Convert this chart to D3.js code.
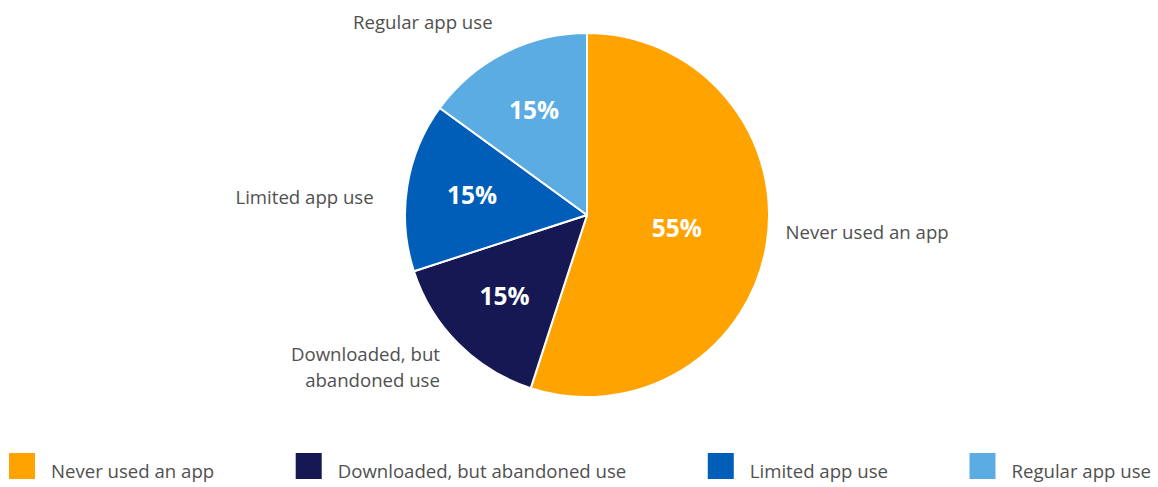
<!DOCTYPE html>
<html>
<head>
<meta charset="utf-8">
<script src="https://cdn.jsdelivr.net/npm/d3@7"></script>
<style>
  html, body { margin: 0; padding: 0; background: #fff; }
  svg { display: block; font-family: "Open Sans", sans-serif; }
</style>
</head>
<body>
<svg id="chart" width="1158" height="487"></svg>
<script>
// App usage shares
const categories = ["Never used an app", "Downloaded, but abandoned use", "Limited app use", "Regular app use"];
const values = [55, 15, 15, 15];
const colors = ["#FFA300", "#151853", "#005EB8", "#5BACE2"];
// Slice labels outside the pie (line breaks where wrapped)
const sliceLabels = [["Never used an app"], ["Downloaded, but", "abandoned use"], ["Limited app use"], ["Regular app use"]];

const W = 1158, H = 487;
const cx = 587, cy = 215, r = 182;
const textColor = "#505050";
const labelSize = 18.6;

const svg = d3.select("#chart");
const data = categories.map((c, i) => ({ name: c, value: values[i], color: colors[i], label: sliceLabels[i] }));

const pie = d3.pie().value(d => d.value).sort(null);
const arcs = pie(data);
const arc = d3.arc().innerRadius(0).outerRadius(r);

const g = svg.append("g").attr("transform", `translate(${cx},${cy})`);

g.selectAll("path.slice")
  .data(arcs)
  .join("path")
  .attr("class", "slice")
  .attr("d", arc)
  .attr("fill", d => d.data.color)
  .attr("stroke", "#fff")
  .attr("stroke-width", 2)
  .attr("stroke-linejoin", "round");

// Percentage labels inside slices
const mid = d => (d.startAngle + d.endAngle) / 2;
const inR = d => (d.endAngle - d.startAngle) > Math.PI ? r * 0.5 : r * 0.64;
g.selectAll("text.pct")
  .data(arcs)
  .join("text")
  .attr("class", "pct")
  .attr("x", d => Math.sin(mid(d)) * inR(d))
  .attr("y", d => -Math.cos(mid(d)) * inR(d))
  .attr("dy", "0.3em")
  .attr("text-anchor", "middle")
  .attr("fill", "#fff")
  .attr("font-weight", 700)
  .attr("font-size", 24.5)
  .text(d => d.data.value + "%");

// Category labels outside slices; near-horizontal labels sit closer
// to the horizontal axis, the left one a little further out
const outR = r + 26;
const lineH = 26;
g.selectAll("text.cat")
  .data(arcs)
  .join("text")
  .attr("class", "cat")
  .attr("font-size", labelSize)
  .attr("fill", textColor)
  .attr("text-anchor", d => Math.sin(mid(d)) >= 0 ? "start" : "end")
  .each(function(d) {
    const a = mid(d);
    const sx = Math.sin(a), sy = -Math.cos(a);
    const flat = Math.abs(sy) < 0.3;
    const rx = flat ? (sx < 0 ? outR + 8 : outR - 7) : outR;
    const x = sx * rx;
    const y = sy * outR * (flat ? 0.55 : 1.04);
    const n = d.data.label.length;
    const t = d3.select(this);
    d.data.label.forEach((line, i) => {
      t.append("tspan")
        .attr("x", x)
        .attr("y", y + (i - (n - 1) / 2) * lineH)
        .attr("dy", "0.35em")
        .text(line);
    });
  });

// Legend spread across the bottom edge
const legend = svg.append("g").attr("class", "legend");
const sw = 26, gapText = 16, left = 9, right = 1151, legY = 453;
const items = legend.selectAll("g.item")
  .data(data)
  .join("g")
  .attr("class", "item");
items.append("rect")
  .attr("width", sw).attr("height", sw)
  .attr("fill", d => d.color);
items.append("text")
  .attr("x", sw + gapText)
  .attr("y", 25)
  .attr("font-size", labelSize)
  .attr("fill", textColor)
  .text(d => d.name);

const widths = [];
items.each(function() { widths.push(this.getBBox().width); });
const total = d3.sum(widths);
const gap = (right - left - total) / (data.length - 1);
let xPos = left;
items.each(function(d, i) {
  d3.select(this).attr("transform", `translate(${xPos},${legY})`);
  xPos += widths[i] + gap;
});
</script>
</body>
</html>
